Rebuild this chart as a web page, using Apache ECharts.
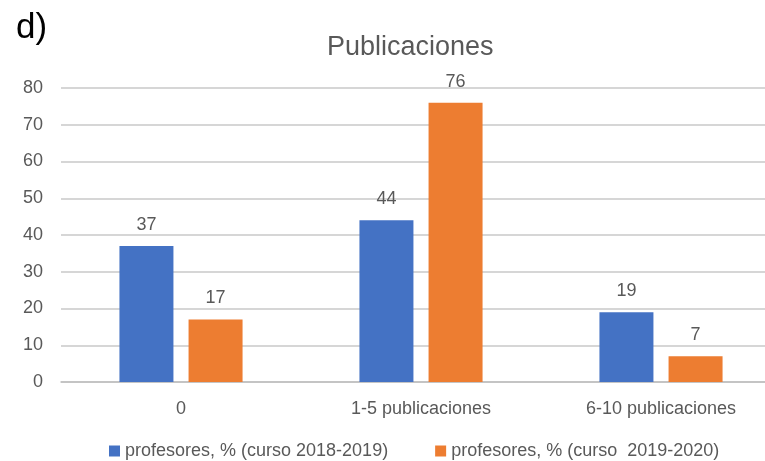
<!DOCTYPE html>
<html>
<head>
<meta charset="utf-8">
<script src="https://cdn.jsdelivr.net/npm/echarts@6/dist/echarts.min.js"></script>
<style>
  html, body { margin: 0; padding: 0; background: #fff; }
  #chart { width: 765px; height: 461px; }
</style>
</head>
<body>
<div id="chart"></div>
<script>
const categories = ['0', '1-5 publicaciones', '6-10 publicaciones'];
const curso2018 = [37, 44, 19];
const curso2019 = [17, 76, 7];
const seriesNames = ['profesores, % (curso 2018-2019)', 'profesores, % (curso  2019-2020)'];

const chart = echarts.init(document.getElementById('chart'));
const font = 'Liberation Sans';
const grey = '#595959';

const option = {
  animation: false,
  graphic: [
    { type: 'text', left: 16, top: 11, style: { text: 'd)', fontFamily: font, fontSize: 35, fill: '#000' } }
  ],
  title: {
    text: 'Publicaciones',
    left: 322,
    top: 29,
    textStyle: { fontFamily: font, fontSize: 27, fontWeight: 'normal', color: grey }
  },
  legend: {
    top: 437,
    left: 104,
    itemWidth: 11,
    itemHeight: 11,
    itemGap: 47,
    icon: 'rect',
    textStyle: { fontFamily: font, fontSize: 18, color: grey },
    data: seriesNames
  },
  grid: { left: 61, top: 88, width: 720, bottom: 79, outerBoundsMode: 'none' },
  xAxis: {
    type: 'category',
    data: categories,
    axisTick: { show: false },
    axisLine: { lineStyle: { color: '#bfbfbf', width: 1.5 } },
    axisLabel: { fontFamily: font, fontSize: 18, color: grey, margin: 18 }
  },
  yAxis: {
    type: 'value',
    min: 0,
    max: 80,
    interval: 10,
    axisLine: { show: false },
    axisTick: { show: false },
    splitLine: { lineStyle: { color: '#c8c8c8', width: 1.5 } },
    axisLabel: { fontFamily: font, fontSize: 18, color: grey, margin: 18 }
  },
  series: [
    {
      name: seriesNames[0], type: 'bar', data: curso2018, barWidth: 54, barGap: '28%',
      itemStyle: { color: '#4472c4' },
      label: { show: true, position: 'top', distance: 12, fontFamily: font, fontSize: 18, color: grey }
    },
    {
      name: seriesNames[1], type: 'bar', data: curso2019, barWidth: 54, barGap: '28%',
      itemStyle: { color: '#ed7d31' },
      label: { show: true, position: 'top', distance: 12, fontFamily: font, fontSize: 18, color: grey }
    }
  ]
};
chart.setOption(option);
</script>
</body>
</html>
